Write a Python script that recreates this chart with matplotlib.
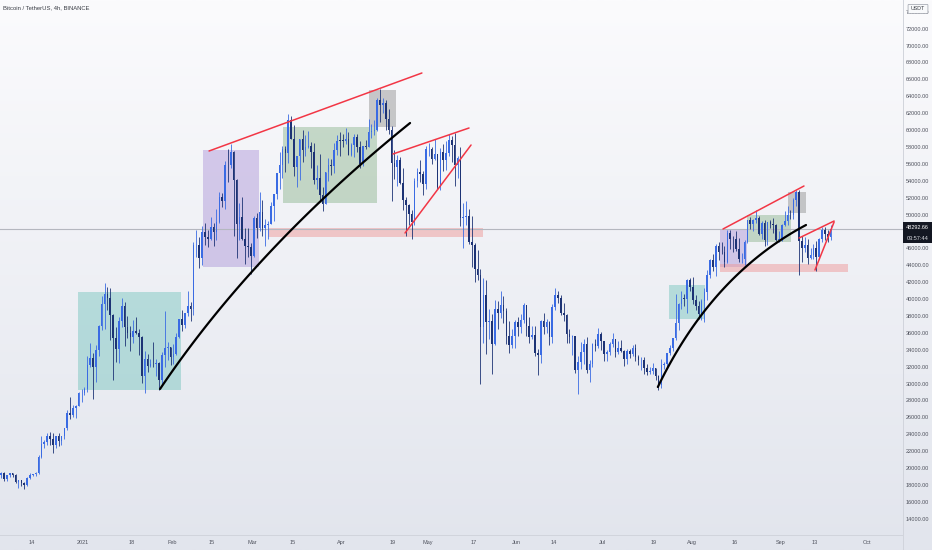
import matplotlib.pyplot as plt
import matplotlib.dates as mdates
from matplotlib.patches import Rectangle, FancyBboxPatch
import numpy as np
import pandas as pd

plt.rcParams['font.family'] = ['Liberation Sans', 'DejaVu Sans']

# daily candles, Dec 3 2020 .. Sep 18 2021 (rounded)
dates = pd.date_range('2020-12-03', '2021-09-18', freq='D')
first_open = 19205
close = [
    # Dec
    19422, 18650, 19147, 19359, 19166, 18324, 18541, 18254, 18036, 18808, 19175, 19273, 19426, 21335, 22797,
    23107, 23822, 23455, 22719, 23810, 23232, 23729, 24712, 26493, 26281, 27079, 27385, 28875, 28923,
    # Jan
    29331, 32178, 33000, 31988, 33949, 36769, 39432, 40582, 40088, 38150, 35404, 34051, 37371, 39144, 36742,
    36018, 35547, 36248, 35996, 35468, 30850, 32945, 32078, 32259, 32254, 32468, 30366, 33364, 34252, 34262, 33092,
    # Feb
    33526, 35466, 37619, 36936, 38290, 39186, 38795, 46374, 46420, 44807, 47969, 47287, 47153, 48577, 47911,
    49133, 52119, 51552, 55906, 55841, 57408, 54087, 48891, 49676, 47073, 46276, 46106, 45135,
    # Mar
    49587, 48440, 50349, 48374, 48751, 48882, 50971, 52375, 54884, 55851, 57773, 57221, 61188, 58968, 55605,
    56900, 58912, 57648, 58030, 58102, 57351, 54083, 54340, 52303, 51293, 55025, 55817, 55777, 57635, 58746, 58740,
    # Apr
    58720, 58950, 57051, 58202, 59129, 57991, 56000, 58088, 58032, 59769, 59860, 59965, 63576, 62959, 63159,
    61334, 60006, 56150, 55633, 56425, 53787, 51690, 51111, 50047, 49066, 54001, 55011, 54846, 53555, 57694,
    # May
    57807, 56578, 57169, 53200, 57436, 56393, 57314, 58862, 58240, 55816, 56670, 49631, 49670, 49841, 46708,
    46426, 43538, 42850, 36671, 40526, 37252, 37449, 34655, 38796, 38324, 39241, 38529, 35663, 34605, 35641, 37253,
    # Jun
    36693, 37568, 39246, 36829, 35513, 35796, 33552, 33380, 37389, 36662, 37331, 35546, 39020, 40516, 40144,
    38349, 38092, 35820, 35483, 35600, 31608, 32509, 33678, 34663, 31584, 32283, 34700, 34494, 35911, 35045,
    # Jul
    33504, 33786, 34669, 35287, 33690, 34220, 33862, 32875, 33815, 33502, 34259, 33086, 32729, 32820, 31880,
    31383, 31520, 31778, 30839, 29790, 32144, 32287, 33634, 34258, 35425, 37208, 39456, 40019, 40016, 42206, 41461,
    # Aug
    39846, 39147, 38207, 39723, 40862, 42836, 44614, 43792, 46285, 45593, 45550, 44428, 47793, 47096, 47047,
    45936, 44686, 44741, 46763, 49339, 48905, 49321, 49546, 47707, 48960, 46942, 49058, 48897, 48767, 46970, 47100,
    # Sep
    48810, 49246, 49999, 49915, 51756, 52663, 46864, 46049, 46395, 44851, 45173, 46026, 44940, 47111, 48122,
    47737, 47300, 48292.66,
]
high = [
    19566, 19500, 19160, 19420, 19411, 19294, 18639, 18557, 18290, 18948, 19411, 19349, 19570, 21560, 23800,
    23285, 24171, 24295, 24102, 23837, 24100, 23789, 24789, 26867, 28422, 27500, 27410, 29000, 29300,
    29600, 33300, 34778, 33600, 34500, 36939, 40365, 41950, 41380, 41350, 38264, 36628, 37850, 40100, 39700,
    37950, 36852, 37469, 37850, 36415, 35600, 33826, 33456, 32946, 34875, 32921, 32557, 33783, 38531, 34934, 34288,
    34717, 35984, 37662, 38708, 38310, 40955, 39700, 46794, 48200, 47310, 48678, 48985, 48150, 49707, 49010,
    50600, 52618, 52530, 56368, 57700, 58352, 57500, 54200, 51374, 52040, 48424, 48390, 46600,
    49790, 50127, 52640, 51773, 49448, 49200, 51450, 52400, 54900, 57387, 58150, 58058, 61844, 61683, 60633,
    56938, 58981, 60000, 59450, 59880, 58592, 58430, 55830, 57200, 53229, 55073, 56640, 56559, 58405, 59368, 59800,
    59490, 60200, 59791, 58493, 59474, 59500, 58650, 58153, 58869, 61300, 60687, 61200, 63800, 64854, 63821,
    63571, 62500, 60430, 57600, 57000, 56757, 55450, 52130, 51200, 50591, 54356, 55460, 56428, 55200, 58075,
    58448, 57950, 58981, 57200, 57911, 58360, 58650, 59500, 59300, 59594, 56888, 58000, 51367, 51540, 50700,
    49795, 46643, 45811, 43547, 42451, 42239, 38856, 38270, 39920, 39791, 40900, 40411, 38877, 37338, 36488, 37499,
    37896, 38225, 39476, 39255, 37925, 36800, 36790, 34068, 37534, 38400, 37680, 37447, 39380, 41330, 40978,
    40528, 39559, 38202, 36457, 35750, 35600, 33298, 34881, 35298, 35487, 32730, 34749, 35297, 36600, 36100,
    35035, 33939, 34922, 35967, 35293, 35059, 35100, 33929, 34100, 34094, 34592, 34650, 33340, 33114, 33185,
    32250, 31950, 32435, 31889, 31038, 32858, 32578, 33650, 34499, 35398, 40550, 39542, 40900, 40627, 42320, 42448,
    42599, 40471, 39780, 39969, 41350, 43392, 44700, 45310, 46456, 46700, 46743, 46218, 48144, 48160, 47400,
    48053, 47160, 45500, 47033, 49382, 49757, 49500, 50500, 49876, 49200, 49300, 49125, 49300, 49632, 48908, 48000,
    48888, 50400, 51000, 50558, 51900, 52920, 52900, 47400, 47350, 47114, 45985, 46460, 46880, 47250, 48470,
    48500, 48179, 48800,
]
low = [
    18860, 18500, 18500, 18925, 18903, 18200, 17650, 17911, 17572, 17900, 18726, 19000, 19050, 19278, 21230,
    22350, 22750, 22700, 21815, 22353, 22600, 22703, 23400, 24500, 25800, 25987, 25880, 27320, 27850,
    28624, 28946, 31963, 28130, 30221, 33288, 36300, 36500, 38720, 35111, 30420, 32531, 32380, 36701, 34408,
    35357, 33850, 34800, 35844, 33400, 30071, 28850, 31390, 31950, 31910, 30837, 29241, 29842, 31915, 32825, 32200,
    32296, 33418, 35362, 36161, 36570, 38000, 37351, 38076, 45000, 43727, 43994, 46400, 46202, 47014, 46222,
    47003, 48947, 50901, 50710, 53863, 55477, 47500, 44888, 47003, 46979, 44106, 45000, 43000,
    45000, 47228, 48100, 47500, 46300, 47070, 48880, 49274, 51789, 53005, 54269, 55013, 56078, 58966, 54600,
    53271, 54123, 56270, 56929, 57820, 55450, 53650, 53000, 51700, 50427, 51300, 53966, 54701, 54900, 57000, 56868,
    57930, 58400, 57000, 56957, 56800, 57413, 55473, 55700, 57700, 58000, 59000, 59350, 59869, 61000, 62020,
    60000, 59580, 51541, 54222, 53329, 53608, 50500, 47500, 48750, 47044, 48800, 53222, 53889, 52330, 53013,
    56977, 56035, 56500, 53046, 52900, 55200, 55241, 56900, 56235, 53400, 54370, 48600, 46000, 48800, 46555,
    43825, 42001, 42207, 30000, 34850, 33488, 35256, 31111, 34555, 36419, 37800, 37134, 34684, 33632, 34225, 34153,
    35666, 35920, 37170, 35600, 34800, 35255, 33300, 31000, 32396, 35800, 35936, 34600, 34757, 38733, 39506,
    38116, 37365, 34819, 34803, 33336, 31251, 28805, 31683, 32286, 31275, 30151, 32000, 33900, 34232, 34017,
    32711, 32700, 33316, 34357, 33125, 33532, 33775, 32108, 32256, 33004, 33300, 32658, 32202, 31600, 31133,
    31020, 31164, 31108, 30407, 29278, 29482, 31708, 31867, 33401, 33881, 35206, 36383, 38772, 39200, 38313, 41000,
    39422, 38690, 37627, 37508, 37332, 39853, 42446, 43261, 42779, 44650, 45341, 43770, 44251, 45971, 45518,
    45660, 44376, 44205, 43998, 46644, 48291, 48000, 49019, 47597, 47114, 46300, 46376, 48370, 47762, 46853, 46700,
    46864, 48584, 48800, 49412, 49500, 50950, 42843, 44412, 45520, 44132, 44722, 44750, 43370, 44689, 46700,
    47005, 46800, 47000,
]
last_price = 48292.66
countdown = '03:57:44'

tick_dates = ['2020-12-14', '2021-01-01', '2021-01-18', '2021-02-01', '2021-02-15', '2021-03-01',
              '2021-03-15', '2021-04-01', '2021-04-19', '2021-05-01', '2021-05-17', '2021-06-01',
              '2021-06-14', '2021-07-01', '2021-07-19', '2021-08-01', '2021-08-16', '2021-09-01',
              '2021-09-13', '2021-10-01']
tick_labels = ['14', '2021', '18', 'Feb', '15', 'Mar', '15', 'Apr', '19', 'May', '17', 'Jun',
               '14', 'Jul', '19', 'Aug', '16', 'Sep', '13', 'Oct']
price_ticks = list(range(14000, 76000, 2000))

# drawings: (start, end, price_low, price_high, colour)
boxes = [
    ('2020-12-30 06:00', '2021-02-04 04:00', 29231, 40828, 'teal'),
    ('2021-02-11 19:00', '2021-03-03 07:00', 43787, 57633, 'purple'),
    ('2021-03-11 17:00', '2021-04-13 10:00', 51361, 60355, 'green'),
    ('2021-04-10 16:00', '2021-04-20 01:00', 60355, 64734, 'gray'),
    ('2021-03-06 11:00', '2021-05-20 10:00', 47337, 48402, 'pink'),
    ('2021-07-24 05:00', '2021-08-05 17:00', 37633, 41657, 'teal'),
    ('2021-08-10 23:00', '2021-08-20 09:00', 43787, 48166, 'purple'),
    ('2021-08-20 09:00', '2021-09-04 17:00', 46746, 49941, 'green'),
    ('2021-09-03 14:00', '2021-09-09 22:00', 50178, 52663, 'gray'),
    ('2021-08-10 23:00', '2021-09-24 12:00', 43195, 44142, 'pink'),
]
red_lines = [
    (('2021-02-13 22:00', 57515), ('2021-04-29 02:00', 66746)),
    (('2021-04-19 00:00', 57160), ('2021-05-15 12:00', 60237)),
    (('2021-04-23 05:00', 47811), ('2021-05-16 05:00', 58225)),
    (('2021-08-12 00:00', 48284), ('2021-09-09 05:00', 53373)),
    (('2021-09-07 12:00', 47219), ('2021-09-19 17:00', 49231)),
    (('2021-09-13 01:00', 43432), ('2021-09-19 17:00', 49112)),
]
# black curves: start, control, end
curves = [
    (('2021-01-27 20:00', 29349), ('2021-03-01 22:00', 46036), ('2021-04-24 23:00', 60828)),
    (('2021-07-20 07:00', 29586), ('2021-08-08 02:00', 42840), ('2021-09-09 22:00', 48757)),
]

box_style = {
    'teal': ('#4db6ac', 0.35),
    'purple': ('#9575cd', 0.35),
    'green': ('#6a9f6a', 0.35),
    'gray': ('#8c8c8c', 0.45),
    'pink': ('#ef9a9a', 0.5),
}
UP = '#3a6be3'
DOWN = '#1d3375'

W, H = 932, 550
fig = plt.figure(figsize=(W / 100, H / 100), dpi=100)

bg = fig.add_axes([0, 0, 1, 1])
bg.set_zorder(-5)
grad = np.linspace(0, 1, 256).reshape(-1, 1)
top = np.array([251, 251, 253]) / 255
bot = np.array([226, 229, 237]) / 255
img = top + (bot - top) * grad[..., None]
bg.imshow(img, aspect='auto', extent=[0, 1, 0, 1])
bg.axis('off')

ax = fig.add_axes([0, 15 / H, 903 / W, 535 / H])
ax.patch.set_alpha(0)

def d(s):
    return mdates.date2num(pd.Timestamp(s))

for x0, x1, p0, p1, kind in boxes:
    col, a = box_style[kind]
    ax.add_patch(Rectangle((d(x0), p0), d(x1) - d(x0), p1 - p0, facecolor=col, alpha=a,
                           edgecolor='none', zorder=1))

ax.axhline(last_price, color='#b4b7bf', lw=0.8, zorder=1.5)

x = mdates.date2num(dates) + 0.5
c = np.array(close, dtype=float)
o = np.array([first_open] + close[:-1], dtype=float)
colors = np.where(c >= o, UP, DOWN)
ax.vlines(x, low, high, colors=colors, lw=0.6, zorder=2)
ax.bar(x, np.maximum(np.abs(c - o), 60), bottom=np.minimum(o, c), width=0.55,
       color=colors, linewidth=0, zorder=2)

for (a0, p0), (a1, p1) in red_lines:
    ax.plot([d(a0), d(a1)], [p0, p1], color='#f23645', lw=1.1, zorder=3, solid_capstyle='round')

t = np.linspace(0, 1, 100)
for (a0, p0), (a1, p1), (a2, p2) in curves:
    bx = (1 - t) ** 2 * d(a0) + 2 * t * (1 - t) * d(a1) + t ** 2 * d(a2)
    by = (1 - t) ** 2 * p0 + 2 * t * (1 - t) * p1 + t ** 2 * p2
    ax.plot(bx, by, color='black', lw=1.6, zorder=3, solid_capstyle='round')

jan1 = d('2021-01-01')
ax.set_xlim(jan1 - 83 / 2.87, jan1 + 820 / 2.87)
ax.set_ylim(12071, 75385)

ax.set_xticks([d(s) for s in tick_dates])
ax.set_xticklabels(tick_labels)
ax.yaxis.tick_right()
ax.set_yticks(price_ticks)
ax.set_yticklabels([f'{v:.2f}' for v in price_ticks])
ax.tick_params(axis='both', length=0, labelsize=4.0, colors='#50535e')
ax.tick_params(axis='x', pad=3.6)
ax.tick_params(axis='y', pad=2.0)
for s in ['top', 'left']:
    ax.spines[s].set_visible(False)
for s in ['right', 'bottom']:
    ax.spines[s].set_color('#d1d4dc')
    ax.spines[s].set_linewidth(0.7)
fig.add_artist(plt.Line2D([903 / W, 903 / W], [0, 15 / H], color='#d1d4dc', lw=0.7))

fig.text(3 / W, 1 - 8 / H, 'Bitcoin / TetherUS, 4h, BINANCE', fontsize=4.2, color='#3a3d45',
         ha='left', va='center')

fig.add_artist(Rectangle((903 / W, 1 - 243 / H), 29 / W, 21 / H, transform=fig.transFigure,
                         facecolor='#131722', edgecolor='none', zorder=10))
fig.text(917.5 / W, 1 - 227.5 / H, f'{last_price:.2f}', fontsize=4.0, color='white',
         ha='center', va='center', zorder=11)
fig.text(917.5 / W, 1 - 238 / H, countdown, fontsize=4.0, color='#d8dae0',
         ha='center', va='center', zorder=11)

fig.add_artist(FancyBboxPatch((909 / W, 1 - 13 / H), 18 / W, 8 / H, boxstyle='round,pad=0.001',
                              transform=fig.transFigure, facecolor='#f8f9fb', edgecolor='#9a9ea8',
                              lw=0.5, zorder=10))
fig.text(918 / W, 1 - 9 / H, 'USDT', fontsize=3.8, color='#3a3d45', ha='center', va='center', zorder=11)

fig.savefig('out.png', dpi=100)
